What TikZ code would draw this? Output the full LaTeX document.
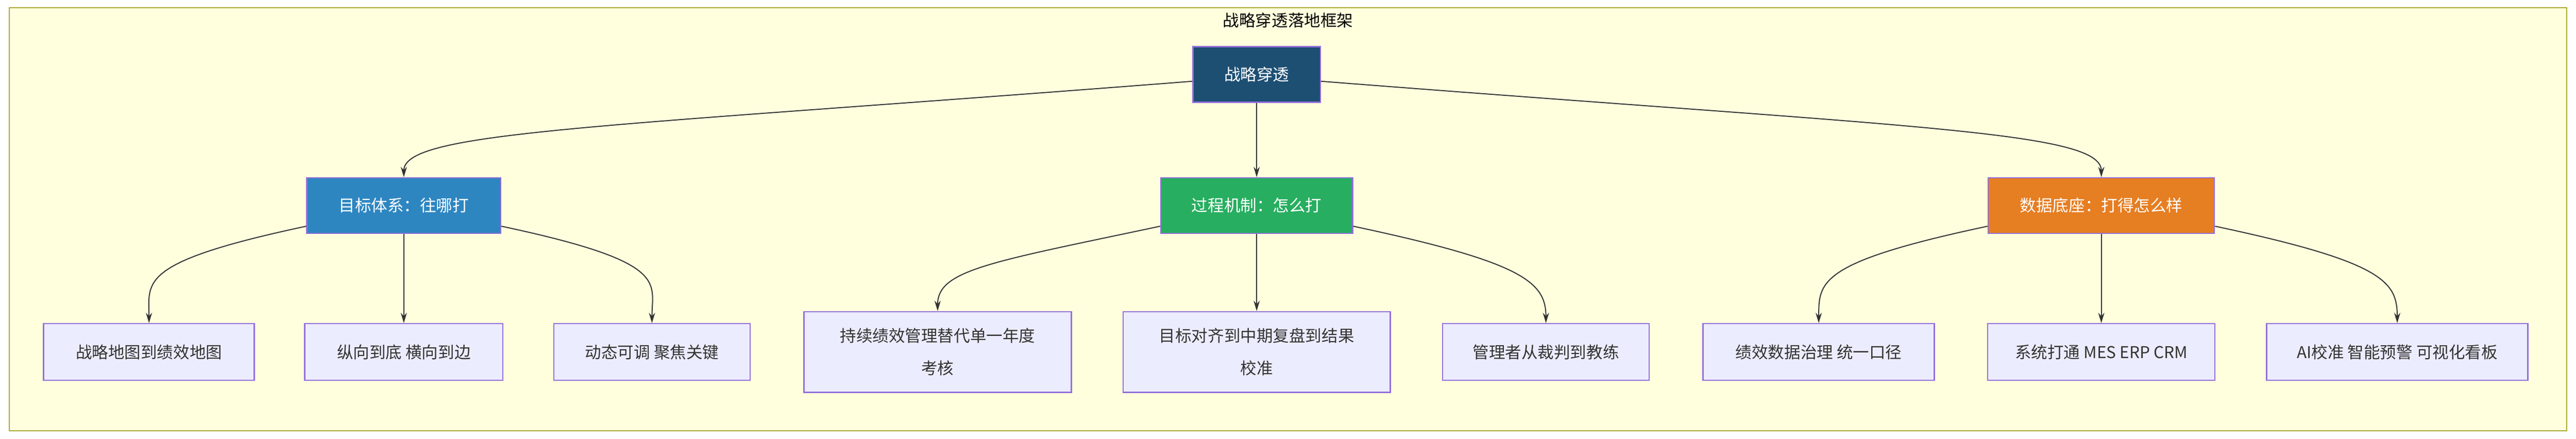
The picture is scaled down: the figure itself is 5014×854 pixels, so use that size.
\documentclass[tikz,border=0pt]{standalone}
\usepackage{fontspec}
\setmainfont{Noto Sans CJK SC}
\usetikzlibrary{arrows.meta}
\definecolor{frameFill}{HTML}{FFFFDE}
\definecolor{frameLine}{HTML}{AAAA33}
\definecolor{leafFill}{HTML}{ECECFF}
\definecolor{leafLine}{HTML}{9370DB}
\definecolor{edgeCol}{HTML}{333333}
\definecolor{rootCol}{HTML}{1D4F73}
\definecolor{goalCol}{HTML}{2E86C1}
\definecolor{procCol}{HTML}{27AE60}
\definecolor{dataCol}{HTML}{E67E22}
\tikzset{
  box/.style={draw=leafLine, line width=0.025cm, inner sep=0pt, align=center, font=\fontsize{9}{18}\selectfont},
  headbox/.style={box, text=white, minimum height=1.08cm},
  leafbox/.style={box, fill=leafFill, text=black!80, minimum height=1.10cm},
  edge/.style={draw=edgeCol, line width=0.02cm, -{Stealth[length=0.2cm,width=0.12cm]}},
}
\begin{document}
\begin{tikzpicture}[x=0.01cm,y=-0.01cm]
	\useasboundingbox (0,0) rectangle (5014,854);
	\draw[fill=frameFill, draw=frameLine, line width=0.02cm] (18,15) rectangle (4996,838);
	\node[font=\fontsize{9}{11}\selectfont] (title) at (2507,40) {战略穿透落地框架};
	% top
	\node[headbox, fill=rootCol, minimum width=2.48cm] (root) at (2446,145) {战略穿透};
	% three pillars
	\node[headbox, fill=goalCol, minimum width=3.77cm] (goal) at (786,400) {目标体系：往哪打};
	\node[headbox, fill=procCol, minimum width=3.73cm] (proc) at (2446,400) {过程机制：怎么打};
	\node[headbox, fill=dataCol, minimum width=4.40cm] (data) at (4090,400) {数据底座：打得怎么样};
	% leaves
	\node[leafbox, minimum width=4.10cm] (g1) at (290,685) {战略地图到绩效地图};
	\node[leafbox, minimum width=3.85cm] (g2) at (786,685) {纵向到底 横向到边};
	\node[leafbox, minimum width=3.82cm] (g3) at (1269,685) {动态可调 聚焦关键};
	\node[leafbox, minimum width=5.20cm, minimum height=1.57cm] (p1) at (1825,685) {持续绩效管理替代单一年度\\考核};
	\node[leafbox, minimum width=5.20cm, minimum height=1.57cm] (p2) at (2446,685) {目标对齐到中期复盘到结果\\校准};
	\node[leafbox, minimum width=4.02cm] (p3) at (3009,685) {管理者从裁判到教练};
	\node[leafbox, minimum width=4.50cm] (d1) at (3540,685) {绩效数据治理 统一口径};
	\node[leafbox, minimum width=4.42cm] (d2) at (4090,685) {系统打通 MES ERP CRM};
	\node[leafbox, minimum width=5.08cm] (d3) at (4666,685) {AI校准 智能预警 可视化看板};
	% connectors
	\draw[edge] (root.186) .. controls +(-1150,90) and +(0,-90) .. (goal.north);
	\draw[edge] (root) -- (proc);
	\draw[edge] (root.-6) .. controls +(1150,90) and +(0,-90) .. (data.north);
	\foreach \p/\l/\m/\r in {goal/g1/g2/g3, proc/p1/p2/p3, data/d1/d2/d3} {
		\draw[edge] (\p.south west) ++(0,-15) .. controls +(-330,70) and +(0,-80) .. (\l.north);
		\draw[edge] (\p) -- (\m);
		\draw[edge] (\p.south east) ++(0,-15) .. controls +(330,70) and +(0,-80) .. (\r.north);
	}
\end{tikzpicture}
\end{document}
